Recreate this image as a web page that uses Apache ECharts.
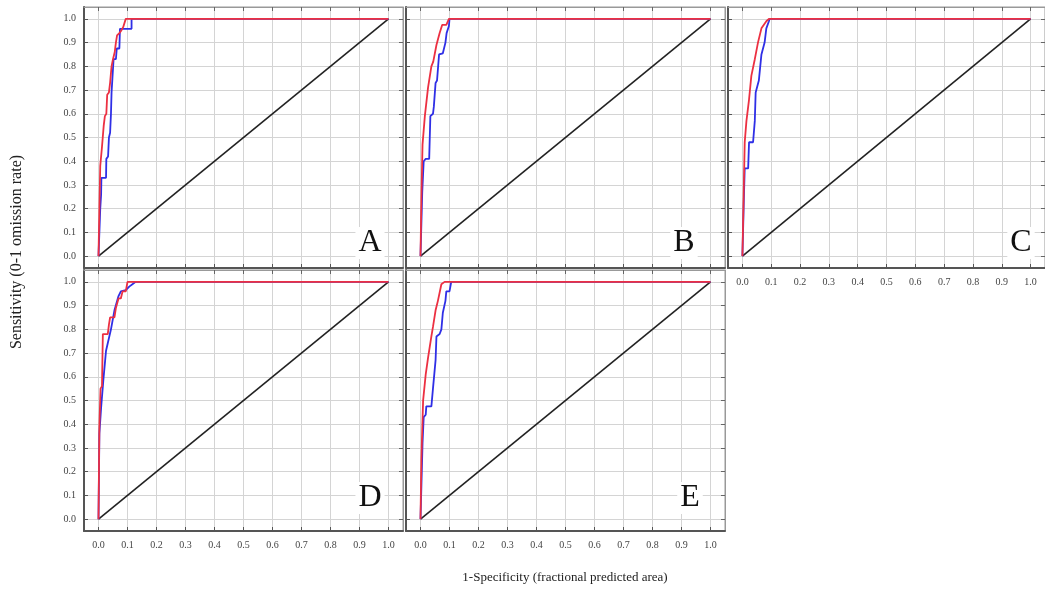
<!DOCTYPE html>
<html>
<head>
<meta charset="utf-8">
<script src="https://cdn.jsdelivr.net/npm/echarts@6/dist/echarts.min.js"></script>
<style>
html, body { margin: 0; padding: 0; background: #fff; }
#chart { width: 1045px; height: 590px; }
</style>
</head>
<body>
<div id="chart"></div>
<script>
// tick values shared by every panel (0.0 .. 1.0)
const tickValues = [0, 0.1, 0.2, 0.3, 0.4, 0.5, 0.6, 0.7, 0.8, 0.9, 1.0];
const panelNames = ['A', 'B', 'C', 'D', 'E'];
const diagonal = [[0, 0], [1, 1]];

// ROC curves, [1-specificity, sensitivity]
const redA = [[0,0],[0.003,0.2],[0.006,0.38],[0.012,0.46],[0.018,0.55],[0.022,0.59],[0.027,0.6],[0.03,0.68],[0.036,0.69],[0.04,0.73],[0.045,0.8],[0.05,0.83],[0.056,0.86],[0.06,0.9],[0.064,0.93],[0.072,0.94],[0.078,0.95],[0.085,0.965],[0.094,1],[1,1]];
const blueA = [[0,0],[0.006,0.2],[0.009,0.26],[0.01,0.33],[0.026,0.33],[0.027,0.41],[0.033,0.42],[0.036,0.5],[0.04,0.52],[0.043,0.6],[0.045,0.69],[0.048,0.75],[0.052,0.83],[0.06,0.83],[0.063,0.875],[0.072,0.875],[0.074,0.958],[0.114,0.958],[0.114,1],[1,1]];

const redB = [[0,0],[0.003,0.24],[0.007,0.47],[0.015,0.59],[0.026,0.71],[0.0375,0.8],[0.044,0.82],[0.055,0.89],[0.066,0.94],[0.075,0.975],[0.089,0.975],[0.098,1],[1,1]];
const blueB = [[0,0],[0.006,0.27],[0.011,0.4],[0.018,0.41],[0.03,0.41],[0.034,0.59],[0.043,0.6],[0.046,0.63],[0.052,0.73],[0.057,0.74],[0.064,0.85],[0.077,0.855],[0.086,0.9],[0.09,0.94],[0.098,0.97],[0.1,1],[1,1]];

const redC = [[0,0],[0.004,0.24],[0.008,0.48],[0.014,0.57],[0.023,0.66],[0.031,0.76],[0.043,0.83],[0.054,0.9],[0.066,0.96],[0.083,0.99],[0.092,1],[1,1]];
const blueC = [[0,0],[0.005,0.24],[0.008,0.37],[0.02,0.37],[0.023,0.48],[0.037,0.48],[0.043,0.57],[0.046,0.69],[0.057,0.74],[0.066,0.85],[0.077,0.9],[0.083,0.96],[0.092,0.99],[0.094,1],[1,1]];

const redD = [[0,0],[0.003,0.39],[0.007,0.55],[0.012,0.56],[0.015,0.78],[0.032,0.78],[0.036,0.82],[0.04,0.85],[0.055,0.85],[0.06,0.89],[0.069,0.93],[0.077,0.93],[0.083,0.96],[0.094,0.96],[0.1,1],[1,1]];
const blueD = [[0,0],[0.003,0.36],[0.009,0.47],[0.017,0.59],[0.026,0.71],[0.043,0.8],[0.055,0.88],[0.069,0.94],[0.077,0.96],[0.094,0.965],[0.106,0.98],[0.117,0.99],[0.128,1],[1,1]];

const redE = [[0,0],[0.003,0.25],[0.009,0.5],[0.018,0.61],[0.026,0.68],[0.0375,0.77],[0.043,0.81],[0.052,0.88],[0.06,0.92],[0.072,0.99],[0.083,1],[1,1]];
const blueE = [[0,0],[0.007,0.32],[0.011,0.43],[0.018,0.44],[0.02,0.475],[0.0375,0.475],[0.043,0.55],[0.052,0.67],[0.055,0.77],[0.066,0.78],[0.072,0.8],[0.077,0.87],[0.086,0.92],[0.089,0.96],[0.1,0.96],[0.106,1],[1,1]];

const redCurves = [redA, redB, redC, redD, redE];
const blueCurves = [blueA, blueB, blueC, blueD, blueE];

const serif = 'Liberation Serif';
const panels = [
    {left: 84, top: 7, width: 319, xLabels: false, yLabels: true, letterX: 370, letterY: 243},
    {left: 406, top: 7, width: 319, xLabels: false, yLabels: false, letterX: 684, letterY: 243},
    {left: 728, top: 7, width: 322, xLabels: true, yLabels: false, letterX: 1021, letterY: 243},
    {left: 84, top: 270, width: 319, xLabels: true, yLabels: true, letterX: 370, letterY: 498},
    {left: 406, top: 270, width: 319, xLabels: true, yLabels: false, letterX: 690, letterY: 498}
];

// main axis: bottom / left, with labels and grid lines
function makeAxis(i, showLabels, isX) {
    return {
        type: 'value',
        gridIndex: i,
        min: -0.05,
        max: 1.05,
        axisLine: {show: true, onZero: false, lineStyle: {color: '#555', width: 2}},
        axisTick: {show: true, inside: true, length: 4, customValues: tickValues, lineStyle: {color: '#555'}},
        axisLabel: {
            show: showLabels,
            customValues: tickValues,
            formatter: v => v.toFixed(1),
            fontFamily: serif,
            fontSize: 10,
            color: '#444',
            margin: isX ? 9 : 8
        },
        splitLine: {show: true, lineStyle: {color: '#d4d4d4', width: 1}}
    };
}

// mirror axis: top / right, ticks only
function makeMirror(i, pos) {
    return {
        type: 'value',
        gridIndex: i,
        position: pos,
        min: -0.05,
        max: 1.05,
        axisLine: {show: true, onZero: false, lineStyle: {color: '#999', width: 1}},
        axisTick: {show: true, inside: true, length: 4, customValues: tickValues, lineStyle: {color: '#666'}},
        axisLabel: {show: false},
        splitLine: {show: false}
    };
}

const grids = [], xAxes = [], yAxes = [], series = [], graphics = [];
panels.forEach((p, i) => {
    grids.push({left: p.left, top: p.top, width: p.width, height: 261, show: true,
        borderColor: '#999', borderWidth: 1, backgroundColor: '#fff'});
    xAxes.push(makeAxis(i, p.xLabels, true));
    yAxes.push(makeAxis(i, p.yLabels, false));
});
panels.forEach((p, i) => {
    xAxes.push(makeMirror(i, 'top'));
    yAxes.push(makeMirror(i, 'right'));
});
panels.forEach((p, i) => {
    series.push({type: 'line', xAxisIndex: i, yAxisIndex: i, data: diagonal, symbol: 'none',
        lineStyle: {color: '#222', width: 1.6}, z: 3});
    series.push({type: 'line', xAxisIndex: i, yAxisIndex: i, data: blueCurves[i], symbol: 'none',
        lineStyle: {color: '#2f2fe6', width: 1.8}, z: 4});
    series.push({type: 'line', xAxisIndex: i, yAxisIndex: i, data: redCurves[i], symbol: 'none',
        lineStyle: {color: '#ec3042', width: 1.8}, z: 5});
    graphics.push({type: 'text', x: p.letterX, y: p.letterY, z: 10,
        style: {text: panelNames[i], font: '32px "Liberation Serif"', fill: '#111',
            align: 'center', verticalAlign: 'middle', backgroundColor: '#fff', padding: [0, 3]}});
});

graphics.push({type: 'text', x: 17, y: 252, rotation: Math.PI / 2,
    style: {text: 'Sensitivity (0-1 omission rate)', font: '16px "Liberation Serif"', fill: '#222',
        align: 'center', verticalAlign: 'middle'}});
graphics.push({type: 'text', x: 565, y: 578,
    style: {text: '1-Specificity (fractional predicted area)', font: '13px "Liberation Serif"', fill: '#222',
        align: 'center', verticalAlign: 'middle'}});

const chart = echarts.init(document.getElementById('chart'));
chart.setOption({
    animation: false,
    backgroundColor: '#fff',
    grid: grids,
    xAxis: xAxes,
    yAxis: yAxes,
    series: series,
    graphic: graphics
});
</script>
</body>
</html>
